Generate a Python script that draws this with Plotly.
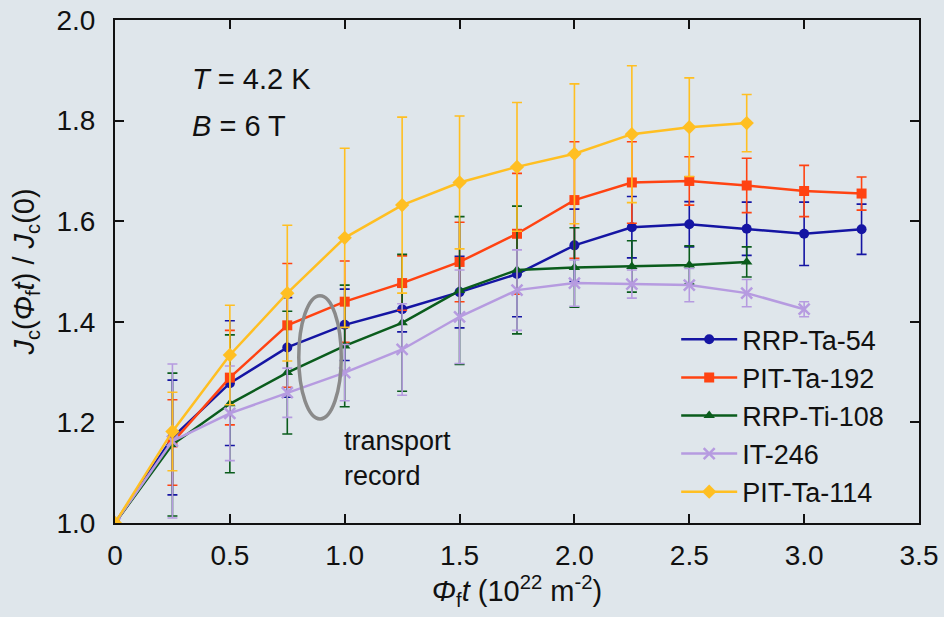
import plotly.graph_objects as go

x_vals = [0, 0.25, 0.5, 0.75, 1.0, 1.25, 1.5, 1.75, 2.0, 2.25, 2.5, 2.75, 3.0, 3.25]

rrp_ta_54 = [1.0, 1.17, 1.278, 1.349, 1.394, 1.425, 1.459, 1.495, 1.552, 1.588, 1.594, 1.585, 1.575, 1.584]
rrp_ta_54_err = [0, 0.114, 0.124, 0.099, 0.071, 0.045, 0.071, 0.085, 0.072, 0.061, 0.045, 0.053, 0.063, 0.05]

pit_ta_192 = [1.0, 1.16, 1.289, 1.393, 1.44, 1.477, 1.519, 1.575, 1.642, 1.677, 1.68, 1.671, 1.66, 1.655]
pit_ta_192_err = [0, 0.085, 0.094, 0.123, 0.081, 0.054, 0.079, 0.12, 0.116, 0.081, 0.048, 0.054, 0.051, 0.033]

rrp_ti_108 = [1.0, 1.156, 1.237, 1.299, 1.352, 1.398, 1.462, 1.503, 1.508, 1.51, 1.513, 1.519]
rrp_ti_108_err = [0, 0.142, 0.137, 0.122, 0.121, 0.136, 0.147, 0.127, 0.079, 0.051, 0.038, 0.03]

it_246 = [1.0, 1.163, 1.218, 1.259, 1.299, 1.345, 1.41, 1.463, 1.477, 1.475, 1.473, 1.457, 1.425]
it_246_err = [0, 0.153, 0.094, 0.049, 0.056, 0.091, 0.093, 0.08, 0.046, 0.028, 0.033, 0.027, 0.015]

pit_ta_114 = [1.0, 1.182, 1.334, 1.457, 1.567, 1.632, 1.677, 1.708, 1.734, 1.773, 1.787, 1.795]
pit_ta_114_err = [0, 0.078, 0.099, 0.135, 0.178, 0.175, 0.132, 0.128, 0.139, 0.136, 0.098, 0.057]

x_ticks = [0, 0.5, 1.0, 1.5, 2.0, 2.5, 3.0, 3.5]
x_tick_labels = ["0", "0.5", "1.0", "1.5", "2.0", "2.5", "3.0", "3.5"]
y_ticks = [1.0, 1.2, 1.4, 1.6, 1.8, 2.0]
y_tick_labels = ["1.0", "1.2", "1.4", "1.6", "1.8", "2.0"]

FONT = "Liberation Sans, Arial, Helvetica, sans-serif"
BG = "#dfe6eb"
INK = "#111111"

series = [
    ("RRP-Ta-54", rrp_ta_54, rrp_ta_54_err, "#1515a3", "circle", 10),
    ("PIT-Ta-192", pit_ta_192, pit_ta_192_err, "#ff4312", "square", 10),
    ("RRP-Ti-108", rrp_ti_108, rrp_ti_108_err, "#0a5c1c", "triangle-up", 10),
    ("IT-246", it_246, it_246_err, "#b69be0", "x-thin", 11),
    ("PIT-Ta-114", pit_ta_114, pit_ta_114_err, "#ffbf22", "diamond", 11),
]

fig = go.Figure()
for name, ys, errs, color, sym, size in series:
    marker = dict(symbol=sym, size=size, color=color)
    if sym == "x-thin":
        marker["line"] = dict(color=color, width=2.5)
    fig.add_trace(go.Scatter(
        x=x_vals[:len(ys)], y=ys, name=name, mode="lines+markers",
        line=dict(color=color, width=2.5),
        marker=marker,
        error_y=dict(type="data", array=errs, symmetric=True, color=color,
                     thickness=1.6, width=5),
    ))

# transport record ellipse
fig.add_shape(type="circle", xref="x", yref="y", x0=0.80, x1=0.985, y0=1.207, y1=1.452,
              line=dict(color="#8a8a8a", width=3.5))

fig.add_annotation(x=0.99, y=1.129, xref="x", yref="y", xanchor="left", yanchor="middle",
                   text="transport<br>record", showarrow=False, align="left",
                   font=dict(family=FONT, size=27, color=INK))
fig.add_annotation(x=0.325, y=1.883, xref="x", yref="y", xanchor="left", yanchor="middle",
                   text="<i>T</i> = 4.2 K", showarrow=False,
                   font=dict(family=FONT, size=29, color=INK))
fig.add_annotation(x=0.325, y=1.789, xref="x", yref="y", xanchor="left", yanchor="middle",
                   text="<i>B</i> = 6 T", showarrow=False,
                   font=dict(family=FONT, size=29, color=INK))

axis_common = dict(showline=True, linecolor=INK, linewidth=2, mirror="ticks",
                   ticks="inside", ticklen=9, tickwidth=1.5, tickcolor=INK,
                   showgrid=False, zeroline=False, automargin=False,
                   tickfont=dict(family=FONT, size=28, color=INK))

fig.update_xaxes(range=[0, 3.5], tickvals=x_ticks, ticktext=x_tick_labels,
                 title=dict(text="<i>Φ</i><sub>f</sub><i>t</i> (10<sup>22</sup> m<sup>-2</sup>)",
                            font=dict(family=FONT, size=29, color=INK), standoff=8),
                 ticklabelstandoff=6, **axis_common)
fig.update_yaxes(range=[1.0, 2.0], tickvals=y_ticks, ticktext=y_tick_labels,
                 title=dict(text="<i>J</i><sub>c</sub>(<i>Φ</i><sub>f</sub><i>t</i>) / <i>J</i><sub>c</sub>(0)",
                            font=dict(family=FONT, size=29, color=INK), standoff=13),
                 ticklabelstandoff=12, **axis_common)

fig.update_layout(
    width=944, height=617,
    margin=dict(l=115, r=25, t=20, b=94),
    paper_bgcolor=BG, plot_bgcolor=BG,
    font=dict(family=FONT, size=28, color=INK),
    legend=dict(x=0.698, y=0.413, xanchor="left", yanchor="top",
                bgcolor="rgba(0,0,0,0)", borderwidth=0,
                font=dict(family=FONT, size=27, color=INK),
                tracegroupgap=0, itemwidth=56),
    showlegend=True,
)

fig.write_html("out.html", config={"displayModeBar": False},
               post_script="document.body.style.margin='0';document.body.style.overflow='hidden';")
